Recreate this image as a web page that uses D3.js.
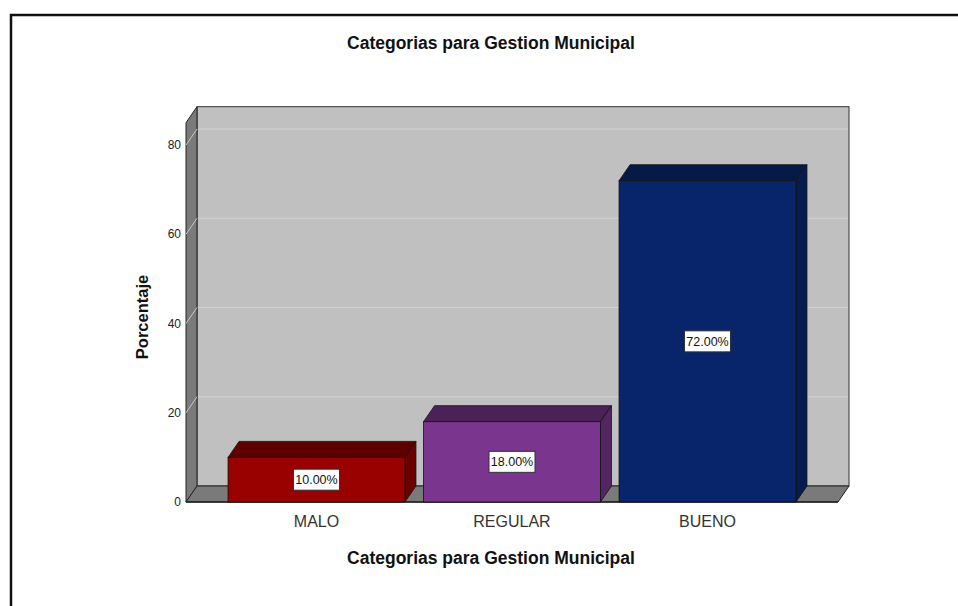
<!DOCTYPE html>
<html>
<head>
<meta charset="utf-8">
<script src="https://cdn.jsdelivr.net/npm/d3@7"></script>
<style>
  body { margin: 0; background: #fff; }
  text { font-family: "Liberation Sans", Arial, sans-serif; }
</style>
</head>
<body>
<div id="chart"></div>
<script>
// data
const categories = ["MALO", "REGULAR", "BUENO"];
const values = [10, 18, 72];
const valueLabels = ["10.00%", "18.00%", "72.00%"];
const yTicks = [0, 20, 40, 60, 80];
const yMax = 85;

const frontColors = ["#990000", "#7a358e", "#08246b"];
const topColors   = ["#5e0000", "#4b2257", "#061a47"];
const sideColors  = ["#6a0000", "#532661", "#061c4f"];

const W = 958, H = 606;
const depthX = 11, depthY = 16;

const svg = d3.select("#chart").append("svg")
  .attr("width", W).attr("height", H);

// outer frame (runs off the right / bottom)
svg.append("rect")
  .attr("x", 11).attr("y", 15)
  .attr("width", W + 20).attr("height", H + 20)
  .attr("fill", "#fff")
  .attr("stroke", "#111").attr("stroke-width", 2.5);

const x = d3.scaleBand()
  .domain(categories)
  .range([186, 838])
  .paddingInner(0.095)
  .paddingOuter(0.215);

const y = d3.scaleLinear()
  .domain([0, 80])
  .range([502, 145]);

const x0 = 186, x1 = 838;
const yb = y(0), yt = y(yMax);

const g = svg.append("g");

// back wall
g.append("rect")
  .attr("x", x0 + depthX).attr("y", yt - depthY)
  .attr("width", x1 - x0).attr("height", yb - yt)
  .attr("fill", "#c0c0c0")
  .attr("stroke", "#333").attr("stroke-width", 1);

// left wall
g.append("path")
  .attr("d", `M${x0},${yb}L${x0},${yt}L${x0 + depthX},${yt - depthY}L${x0 + depthX},${yb - depthY}Z`)
  .attr("fill", "#7a7a7a")
  .attr("stroke", "#222").attr("stroke-width", 1);

// floor
g.append("path")
  .attr("d", `M${x0},${yb}L${x1},${yb}L${x1 + depthX},${yb - depthY}L${x0 + depthX},${yb - depthY}Z`)
  .attr("fill", "#7a7a7a")
  .attr("stroke", "#222").attr("stroke-width", 1);

// grid lines
yTicks.filter(d => d > 0).forEach(d => {
  g.append("line")
    .attr("x1", x0 + depthX + 1).attr("x2", x1 + depthX - 1)
    .attr("y1", y(d) - depthY).attr("y2", y(d) - depthY)
    .attr("stroke", "#d2d2d2").attr("stroke-width", 1.2);
  g.append("line")
    .attr("x1", x0).attr("x2", x0 + depthX)
    .attr("y1", y(d)).attr("y2", y(d) - depthY)
    .attr("stroke", "#c8c8c8").attr("stroke-width", 1);
});

// front bottom edge
g.append("line")
  .attr("x1", x0).attr("x2", x1)
  .attr("y1", yb).attr("y2", yb)
  .attr("stroke", "#222").attr("stroke-width", 1.5);

// y tick labels
svg.append("g").selectAll("text")
  .data(yTicks).enter().append("text")
  .attr("x", 181).attr("y", d => y(d))
  .attr("dy", "0.35em")
  .attr("text-anchor", "end")
  .attr("font-size", 12)
  .attr("fill", "#222")
  .text(d => d);

// bars
const bars = svg.append("g").selectAll("g")
  .data(categories).enter().append("g");

bars.each(function(c, i) {
  const b = d3.select(this);
  const bx = x(c), bw = x.bandwidth();
  const by = y(values[i]);
  // top
  b.append("path")
    .attr("d", `M${bx},${by}L${bx + depthX},${by - depthY}L${bx + bw + depthX},${by - depthY}L${bx + bw},${by}Z`)
    .attr("fill", topColors[i]).attr("stroke", "#111").attr("stroke-width", 0.8);
  // side
  b.append("path")
    .attr("d", `M${bx + bw},${by}L${bx + bw + depthX},${by - depthY}L${bx + bw + depthX},${yb - depthY}L${bx + bw},${yb}Z`)
    .attr("fill", sideColors[i]).attr("stroke", "#111").attr("stroke-width", 0.8);
  // front
  b.append("rect")
    .attr("x", bx).attr("y", by)
    .attr("width", bw).attr("height", yb - by)
    .attr("fill", frontColors[i]).attr("stroke", "#111").attr("stroke-width", 0.8);

  // value label
  const cx = bx + bw / 2, cy = (by + yb) / 2;
  b.append("rect")
    .attr("x", cx - 23).attr("y", cy - 10.5)
    .attr("width", 46).attr("height", 21)
    .attr("fill", "#fff").attr("stroke", "#333").attr("stroke-width", 1);
  b.append("text")
    .attr("x", cx).attr("y", cy)
    .attr("dy", "0.35em")
    .attr("text-anchor", "middle")
    .attr("font-size", 12.5)
    .attr("fill", "#111")
    .text(valueLabels[i]);
});

// x category labels
svg.append("g").selectAll("text")
  .data(categories).enter().append("text")
  .attr("x", d => x(d) + x.bandwidth() / 2)
  .attr("y", 521)
  .attr("dy", "0.35em")
  .attr("text-anchor", "middle")
  .attr("font-size", 16)
  .attr("fill", "#333")
  .text(d => d);

// titles
svg.append("text")
  .attr("x", 491).attr("y", 49)
  .attr("text-anchor", "middle")
  .attr("font-size", 17.5).attr("font-weight", "bold")
  .attr("fill", "#111")
  .text("Categorias para Gestion Municipal");

svg.append("text")
  .attr("x", 491).attr("y", 564)
  .attr("text-anchor", "middle")
  .attr("font-size", 17.5).attr("font-weight", "bold")
  .attr("fill", "#111")
  .text("Categorias para Gestion Municipal");

svg.append("text")
  .attr("transform", "translate(148,317) rotate(-90)")
  .attr("text-anchor", "middle")
  .attr("font-size", 16.5).attr("font-weight", "bold")
  .attr("fill", "#111")
  .text("Porcentaje");
</script>
</body>
</html>
